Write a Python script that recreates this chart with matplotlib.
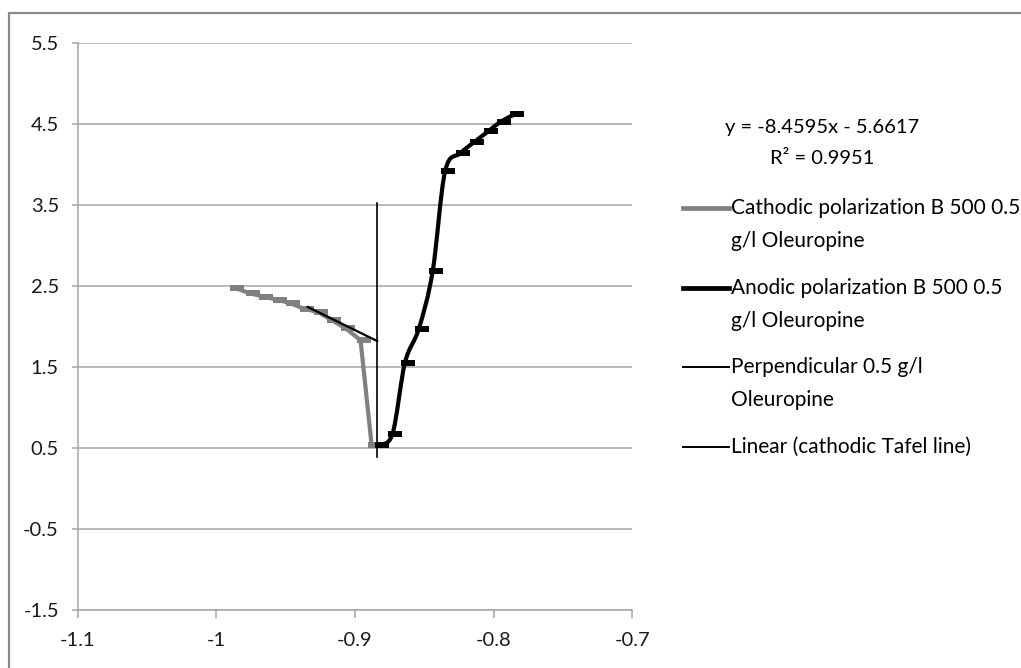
import numpy as np
import matplotlib.pyplot as plt
from matplotlib.path import Path
from matplotlib.patches import PathPatch, Rectangle
from matplotlib.lines import Line2D

plt.rcParams['font.family'] = ['Lato', 'DejaVu Sans']

# cathodic polarization (gray)
cath_x = [-0.987, -0.976, -0.966, -0.956, -0.947, -0.937, -0.927, -0.917, -0.907, -0.896, -0.888]
cath_y = [2.48, 2.41, 2.37, 2.33, 2.29, 2.22, 2.18, 2.08, 1.98, 1.83, 0.53]

# anodic polarization (black)
anod_x = [-0.883, -0.873, -0.864, -0.854, -0.844, -0.835, -0.824, -0.814, -0.804, -0.795, -0.785]
anod_y = [0.54, 0.67, 1.55, 1.97, 2.68, 3.92, 4.14, 4.28, 4.41, 4.53, 4.62]

# perpendicular line and cathodic Tafel trendline
perp_x = [-0.884, -0.884]
perp_y = [0.39, 3.52]
tafel_x = [-0.934, -0.884]
tafel_y = [2.24, 1.82]

x_ticks = [-1.1, -1.0, -0.9, -0.8, -0.7]
y_ticks = [-1.5, -0.5, 0.5, 1.5, 2.5, 3.5, 4.5, 5.5]

eq_text = "y = -8.4595x - 5.6617"
r2_text = "R\u00b2 = 0.9951"
labels = [["Cathodic polarization B 500 0.5", "g/l Oleuropine"],
          ["Anodic polarization B 500 0.5", "g/l Oleuropine"],
          ["Perpendicular 0.5 g/l", "Oleuropine"],
          ["Linear (cathodic Tafel line)"]]

GRAY = '#808080'
GRID = '#a6a6a6'


def smooth_path(xs, ys):
    # excel-style smoothed line (catmull-rom as bezier)
    pts = np.column_stack([xs, ys])
    verts = [pts[0]]
    codes = [Path.MOVETO]
    n = len(pts)
    for i in range(n - 1):
        p0 = pts[i - 1] if i > 0 else pts[i]
        p1 = pts[i]
        p2 = pts[i + 1]
        p3 = pts[i + 2] if i + 2 < n else pts[i + 1]
        verts += [p1 + (p2 - p0) / 6, p2 - (p3 - p1) / 6, p2]
        codes += [Path.CURVE4] * 3
    return Path(verts, codes)


dash = Path([(-0.3, -0.2), (0.7, -0.2), (0.7, 0.2), (-0.3, 0.2), (-0.3, -0.2)],
            [Path.MOVETO, Path.LINETO, Path.LINETO, Path.LINETO, Path.CLOSEPOLY])

fig = plt.figure(figsize=(10.21, 6.68), dpi=100)
ax = fig.add_axes([0.0761, 0.0874, 0.5432, 0.8478])

ax.plot(cath_x, cath_y, color=GRAY, lw=3, solid_joinstyle='round', zorder=3)
ax.plot(cath_x, cath_y, ls='none', marker=dash, ms=14, color=GRAY, mew=0, zorder=3)

ax.add_patch(PathPatch(smooth_path(anod_x, anod_y), fill=False, lw=3,
                       edgecolor='black', zorder=4))
ax.plot(anod_x, anod_y, ls='none', marker=dash, ms=14, color='black', mew=0, zorder=4)

ax.plot(perp_x, perp_y, color='black', lw=1.2, zorder=5)
ax.plot(tafel_x, tafel_y, color='black', lw=1.6, zorder=6)

ax.set_xlim(-1.1, -0.7)
ax.set_ylim(-1.5, 5.5)
ax.set_xticks(x_ticks)
ax.set_yticks(y_ticks)
ax.set_xticklabels(['%g' % v for v in x_ticks])
ax.set_yticklabels(['%g' % v for v in y_ticks])
ax.yaxis.grid(True, color=GRID, lw=1.1)
ax.set_axisbelow(True)
for s in ['top', 'right']:
    ax.spines[s].set_visible(False)
for s in ['left', 'bottom']:
    ax.spines[s].set_color(GRID)
    ax.spines[s].set_linewidth(1.1)
ax.tick_params(axis='x', direction='out', length=6, width=1.1, color=GRID,
               labelsize=14.5, labelcolor='#1a1a1a', pad=10)
ax.tick_params(axis='y', direction='out', length=4.5, width=1.1, color=GRID,
               labelsize=14.5, labelcolor='#1a1a1a', pad=9)

# equation of trendline
fig.text(822 / 1021, 1 - 128 / 668, eq_text, ha='center', va='center', fontsize=14.5)
fig.text(822 / 1021, 1 - 158 / 668, r2_text, ha='center', va='center', fontsize=14.5)

# legend, drawn by hand
handles = [(GRAY, 3.4), ('black', 3.4), ('black', 1.4), ('black', 1.4)]
rows = [208, 288, 367, 447]
for (c, w), row, lab in zip(handles, rows, labels):
    yf = 1 - row / 668
    fig.add_artist(Line2D([683 / 1021, 729 / 1021], [yf, yf], color=c, lw=w,
                          transform=fig.transFigure))
    for k, line in enumerate(lab):
        fig.text(731 / 1021, 1 - (row + 33 * k) / 668, line, ha='left', va='center',
                 fontsize=15, transform=fig.transFigure)

# outer chart frame
fig.add_artist(Rectangle((9 / 1021, -0.1), 1.2, 1.1 - 13 / 668, fill=False,
                         edgecolor='#8a8a8a', lw=1.6, transform=fig.transFigure))

fig.savefig('out.png', dpi=100)
